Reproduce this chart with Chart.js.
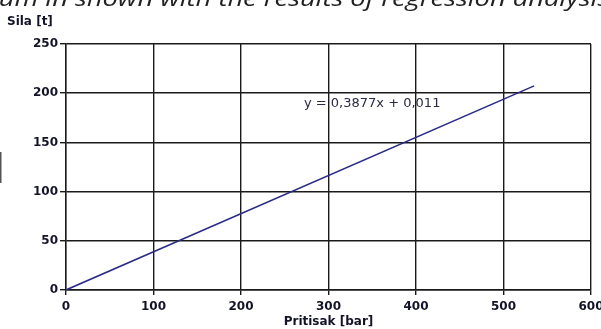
<!DOCTYPE html>
<html>
<head>
<meta charset="utf-8">
<script src="https://cdn.jsdelivr.net/npm/chart.js@4.4.1/dist/chart.umd.min.js"></script>
<style>
  html, body { margin: 0; padding: 0; background: #fff; }
  #wrap { width: 601px; height: 329px; position: relative; }
</style>
</head>
<body>
<div id="wrap"><canvas id="c" width="601" height="329"></canvas></div>
<script>
// Regression line: pressure (bar) vs. force (t)
const pressureBar = [0, 535];
const forceT = [0.011, 207.43];
const slope = 0.3877;
const intercept = 0.011;

// Axis ticks
const xTicks = [0, 100, 200, 300, 400, 500, 600];
const yTicks = [0, 50, 100, 150, 200, 250];

const xTitle = 'Pritisak [bar]';
const yTitle = 'Sila [t]';
const captionText = 'um in shown with the results of regression analysis';

// Equation label, written with decimal commas
const fmt = v => String(v).replace('.', ',');
const equationText = 'y = ' + fmt(slope) + 'x + ' + fmt(intercept);
const equationAt = { x: 272, y: 189 };

const GRID = '#1a1a1a';
const TEXT = '#141428';
const LINE = '#2b2b88';

const overlay = {
  id: 'overlay',
  afterDraw(chart) {
    const ctx = chart.ctx;
    const xs = chart.scales.x, ys = chart.scales.y;
    ctx.save();
    // surrounding sentence, top clipped by the frame
    ctx.save();
    ctx.scale(1.24, 1);
    ctx.font = 'italic 22px "Open Sans"';
    ctx.fillStyle = '#222';
    ctx.textAlign = 'left';
    ctx.textBaseline = 'alphabetic';
    ctx.fillText(captionText, -1, 6);
    ctx.restore();
    // stroke of a neighbouring glyph on the left margin
    ctx.fillStyle = '#555';
    ctx.fillRect(0, 152, 1.5, 31);
    // y axis title above the axis
    ctx.font = 'bold 12px "DejaVu Sans"';
    ctx.fillStyle = TEXT;
    ctx.textAlign = 'left';
    ctx.textBaseline = 'middle';
    ctx.fillText(yTitle, 7, 22);
    // regression equation
    ctx.font = '13px "DejaVu Sans"';
    ctx.fillStyle = '#2a2a44';
    ctx.fillText(equationText, xs.getPixelForValue(equationAt.x), ys.getPixelForValue(equationAt.y));
    ctx.restore();
  }
};

new Chart(document.getElementById('c'), {
  type: 'scatter',
  data: {
    datasets: [{
      data: pressureBar.map((x, i) => ({ x, y: forceT[i] })),
      showLine: true,
      borderColor: LINE,
      borderWidth: 1.6,
      pointRadius: 0,
      fill: false
    }]
  },
  options: {
    responsive: false,
    animation: false,
    events: [],
    layout: { padding: { top: 44, right: 10, bottom: 0, left: 0 } },
    plugins: { legend: { display: false }, tooltip: { enabled: false } },
    scales: {
      x: {
        type: 'linear',
        min: xTicks[0],
        max: xTicks[xTicks.length - 1],
        afterBuildTicks(s) { s.ticks = xTicks.map(v => ({ value: v })); },
        afterFit(s) { s.height = 39; s.paddingLeft = 0; s.paddingRight = 0; },
        grid: { color: GRID, lineWidth: 1.4, tickLength: 5, drawTicks: true },
        border: { color: GRID, width: 1.4 },
        ticks: {
          color: TEXT,
          padding: 5,
          maxRotation: 0,
          font: { family: 'DejaVu Sans', size: 12, weight: 'bold' }
        },
        title: {
          display: true,
          text: xTitle,
          color: TEXT,
          padding: { top: 0, bottom: 0 },
          font: { family: 'DejaVu Sans', size: 12, weight: 'bold' }
        }
      },
      y: {
        type: 'linear',
        min: yTicks[0],
        max: yTicks[yTicks.length - 1],
        afterBuildTicks(s) { s.ticks = yTicks.map(v => ({ value: v })); },
        afterFit(s) { s.width = 66; s.paddingTop = 0; s.paddingBottom = 0; },
        grid: { color: GRID, lineWidth: 1.4, tickLength: 6, drawTicks: true },
        border: { color: GRID, width: 1.4 },
        ticks: {
          color: TEXT,
          padding: 2,
          font: { family: 'DejaVu Sans', size: 12, weight: 'bold' }
        }
      }
    }
  },
  plugins: [overlay]
});
</script>
</body>
</html>
